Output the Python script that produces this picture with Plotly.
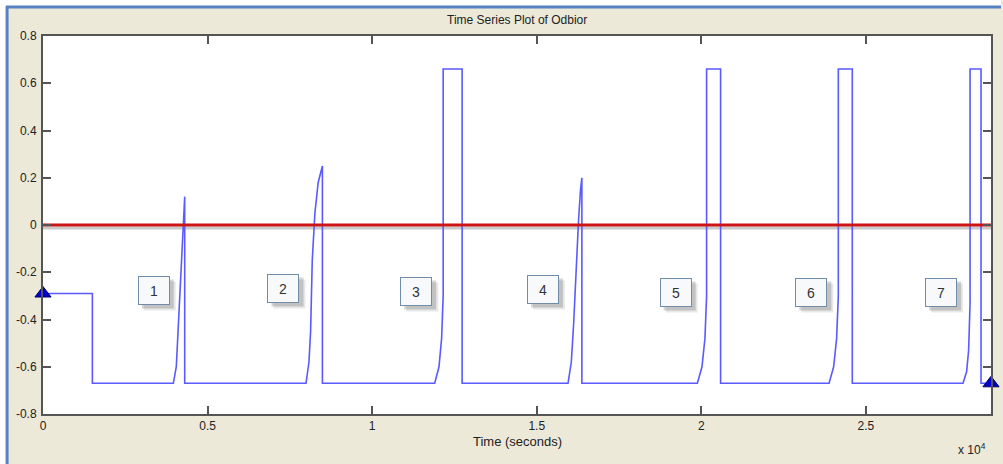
import plotly.graph_objects as go

# ---- data -------------------------------------------------------------
# signal "Odbior" sampled at its breakpoints (time in seconds)
time_s = [0, 1500, 1500,
          3960, 4050, 4120, 4200, 4260, 4305, 4305,
          7990, 8080, 8130, 8180, 8260, 8360, 8450, 8488, 8488,
          11900, 12030, 12110, 12157, 12157, 12733, 12733,
          15950, 16050, 16120, 16200, 16270, 16330, 16371, 16371,
          19880, 20020, 20110, 20160, 20160, 20585, 20585,
          23880, 24020, 24110, 24162, 24162, 24586, 24586,
          27950, 28060, 28120, 28164, 28164, 28497, 28497, 28800]
odbior = [-0.29, -0.29, -0.67,
          -0.67, -0.60, -0.40, -0.15, 0.00, 0.12, -0.67,
          -0.67, -0.58, -0.45, -0.15, 0.05, 0.18, 0.24, 0.25, -0.67,
          -0.67, -0.60, -0.48, -0.30, 0.66, 0.66, -0.67,
          -0.67, -0.58, -0.42, -0.15, 0.02, 0.15, 0.20, -0.67,
          -0.67, -0.60, -0.48, -0.30, 0.66, 0.66, -0.67,
          -0.67, -0.60, -0.48, -0.30, 0.66, 0.66, -0.67,
          -0.67, -0.62, -0.53, -0.33, 0.66, 0.66, -0.67, -0.67]

# zero threshold line
threshold_t = [0, 28800]
threshold_v = [0, 0]

# start / end markers
marker_t = [0, 28800]
marker_v = [-0.29, -0.67]

# cycle labels
cycle_labels = ["1", "2", "3", "4", "5", "6", "7"]

x_tickvals = [0, 5000, 10000, 15000, 20000, 25000]
x_ticktext = ["0", "0.5", "1", "1.5", "2", "2.5"]
y_tickvals = [0.8, 0.6, 0.4, 0.2, 0, -0.2, -0.4, -0.6, -0.8]
y_ticktext = ["0.8", "0.6", "0.4", "0.2", "0", "-0.2", "-0.4", "-0.6", "-0.8"]

# ---- figure -----------------------------------------------------------
W, H = 1003, 464
ML, MR, MT, MB = 43, 10, 36, 50
PW, PH = W - ML - MR, H - MT - MB

def px_x(px):
    return (px - ML) / PW

def px_y(py):
    return (H - MB - py) / PH

FONT = "Liberation Sans, Arial, sans-serif"
BEIGE = "#ece9d8"

fig = go.Figure()

fig.add_trace(go.Scatter(
    x=time_s, y=odbior, mode="lines",
    line=dict(color="#5a5aff", width=1.6),
    hoverinfo="skip", showlegend=False))

fig.add_trace(go.Scatter(
    x=threshold_t, y=threshold_v, mode="lines",
    line=dict(color="#cc1414", width=3),
    hoverinfo="skip", showlegend=False))

fig.add_trace(go.Scatter(
    x=marker_t, y=marker_v, mode="markers",
    marker=dict(symbol="triangle-up", size=14, color="#0000d0",
                line=dict(color="#000060", width=1)),
    cliponaxis=False, hoverinfo="skip", showlegend=False))

shapes = [
    # soft grey shadow under the threshold line
    dict(type="line", xref="paper", yref="y", x0=0, x1=1, y0=-0.013, y1=-0.013,
         line=dict(color="#c9c9c9", width=3), layer="below"),
    # window frame: white strips + blue border
    dict(type="rect", xref="paper", yref="paper",
         x0=px_x(0), x1=px_x(W), y0=px_y(6), y1=px_y(0),
         fillcolor="white", line=dict(width=0), layer="below"),
    dict(type="rect", xref="paper", yref="paper",
         x0=px_x(0), x1=px_x(6), y0=px_y(H), y1=px_y(0),
         fillcolor="white", line=dict(width=0), layer="below"),
    dict(type="line", xref="paper", yref="paper",
         x0=px_x(6), x1=px_x(W), y0=px_y(7), y1=px_y(7),
         line=dict(color="#5583c2", width=3), layer="below"),
    dict(type="line", xref="paper", yref="paper",
         x0=px_x(7), x1=px_x(7), y0=px_y(6), y1=px_y(H),
         line=dict(color="#5583c2", width=3), layer="below"),
]

annotations = [
    dict(text="Time Series Plot of Odbior", xref="paper", yref="paper",
         x=0.5, y=px_y(20), yanchor="middle", showarrow=False,
         font=dict(family=FONT, size=12, color="#222")),
    dict(text="Time (seconds)", xref="paper", yref="paper",
         x=0.5, y=px_y(442), yanchor="middle", showarrow=False,
         font=dict(family=FONT, size=13, color="#222")),
    dict(text="x 10<sup>4</sup>", xref="paper", yref="paper",
         x=px_x(990), y=px_y(449), xanchor="right", yanchor="middle",
         showarrow=False, font=dict(family=FONT, size=12, color="#222")),
]

# label boxes with a drop shadow (pixel centres inside the plot area)
box_centres = [(154, 290), (284, 288), (417, 291), (544, 289),
               (677, 292), (813, 292), (943, 292)]
x_per_px = 28800 / PW
y_per_px = 1.6 / PH
for lab, (bx, by) in zip(cycle_labels, box_centres):
    xc = (bx - ML) * x_per_px
    yc = (225 - by) * y_per_px
    for d, alpha in ((6, 0.09), (4, 0.16)):
        shapes.append(dict(
            type="rect", xref="x", yref="y", xsizemode="pixel",
            ysizemode="pixel", xanchor=xc, yanchor=yc,
            x0=-16 + d, x1=16 + d, y0=-14.5 - d, y1=14.5 - d,
            fillcolor=f"rgba(0,0,0,{alpha})", line=dict(width=0),
            layer="above"))
    annotations.append(dict(
        text=lab, x=xc, y=yc, xref="x", yref="y", showarrow=False,
        width=30, height=27, borderpad=0, borderwidth=1,
        bordercolor="#6f8cab", bgcolor="#f8f9fb",
        font=dict(family=FONT, size=14, color="#333")))

axis_common = dict(
    showgrid=False, zeroline=False, showline=True, linecolor="#555",
    linewidth=2, mirror="ticks", ticks="inside", ticklen=8, tickwidth=1.5,
    tickcolor="#555", tickfont=dict(family=FONT, size=12, color="#222"))

fig.update_layout(
    width=W, height=H,
    margin=dict(l=ML, r=MR, t=MT, b=MB, pad=0),
    paper_bgcolor=BEIGE, plot_bgcolor="white",
    xaxis=dict(range=[0, 28800], tickvals=x_tickvals, ticktext=x_ticktext,
               **axis_common),
    yaxis=dict(range=[-0.8, 0.8], tickvals=y_tickvals, ticktext=y_ticktext,
               ticklabelstandoff=2, **axis_common),
    shapes=shapes, annotations=annotations, showlegend=False)

fig.write_html("out.html")
